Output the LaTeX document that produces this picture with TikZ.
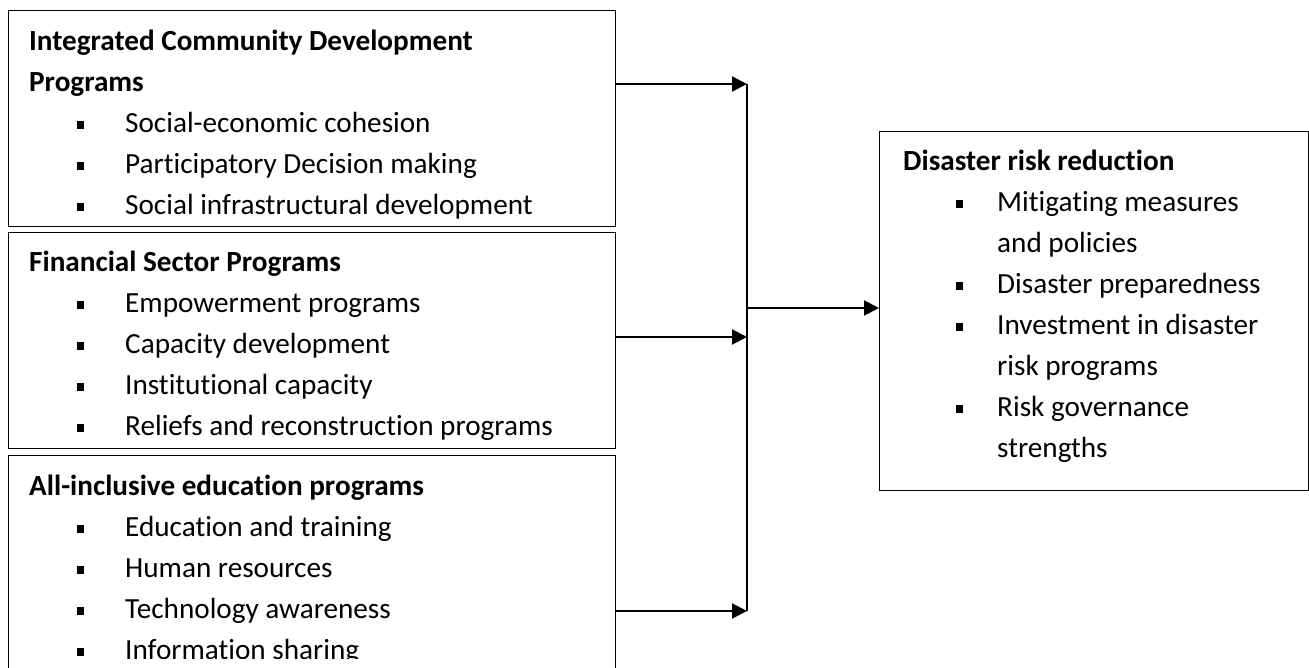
\documentclass[tikz,border=0pt]{standalone}
\usepackage{fontspec}
\setmainfont[Ligatures={NoCommon}]{Carlito}
\usetikzlibrary{arrows.meta}
% bullet item: small square, then the text on a hanging indent of the given width
\newcommand\bulletline[2][48pt]{\makebox[#1][l]{\rule[3pt]{7pt}{8pt}}#2}
\begin{document}
\begin{tikzpicture}[x=1pt,y=-1pt,
  box/.style={draw=black,line width=1.3pt,rectangle,inner sep=0pt,anchor=north west},
  txt/.style={anchor=base west,inner sep=0pt,font=\fontsize{29.2}{41}\selectfont},
  hd/.style={anchor=base west,inner sep=0pt,font=\fontsize{29.2}{41}\selectfont\bfseries},
  link/.style={line width=2pt,-{Triangle[length=15pt,width=15pt]}},
  rail/.style={line width=1.5pt}]
\useasboundingbox (0,0) rectangle (1309,667);
\clip (0,0) rectangle (1309,667);

% program boxes on the left
\node[box,minimum width=607pt,minimum height=216pt] (b1) at (8,10) {};
\node[box,minimum width=607pt,minimum height=216pt] (b2) at (8,232) {};
\node[box,minimum width=607pt,minimum height=240pt] (b3) at (8,455) {};
% outcome box on the right
\node[box,minimum width=429pt,minimum height=359pt] (out) at (879,131) {};

% box 1 text
\node[hd]  (h1)  at (29,50)  {Integrated Community Development};
\node[hd]  (h1b) at (29,91)  {Programs};
\node[txt] (i11) at (77,132) {\bulletline{Social-economic cohesion}};
\node[txt] (i12) at (77,173) {\bulletline{Participatory Decision making}};
\node[txt] (i13) at (77,214) {\bulletline{Social infrastructural development}};

% box 2 text, cut off at the inner margin
\begin{scope}
\clip (8,232) rectangle (615,440);
\node[hd]  (h2)  at (29,271)  {Financial Sector Programs};
\node[txt] (i21) at (77,312) {\bulletline{Empowerment programs}};
\node[txt] (i22) at (77,353) {\bulletline{Capacity development}};
\node[txt] (i23) at (77,394) {\bulletline{Institutional capacity}};
\node[txt] (i24) at (77,435) {\bulletline{Reliefs and reconstruction programs}};
\end{scope}

% box 3 text, cut off at the inner margin
\begin{scope}
\clip (8,455) rectangle (615,658);
\node[hd]  (h3)  at (29,495)  {All-inclusive education programs};
\node[txt] (i31) at (77,536) {\bulletline{Education and training}};
\node[txt] (i32) at (77,577) {\bulletline{Human resources}};
\node[txt] (i33) at (77,618) {\bulletline{Technology awareness}};
\node[txt] (i34) at (77,659) {\bulletline{Information sharing}};
\end{scope}

% outcome text
\node[hd]  (h4)  at (903,170) {Disaster risk reduction};
\node[txt] (i41) at (956,211) {\bulletline[41pt]{Mitigating measures}};
\node[txt] (i41b) at (997,252) {and policies};
\node[txt] (i42) at (956,293) {\bulletline[41pt]{Disaster preparedness}};
\node[txt] (i43) at (956,334) {\bulletline[41pt]{Investment in disaster}};
\node[txt] (i43b) at (997,375) {risk programs};
\node[txt] (i44) at (956,416) {\bulletline[41pt]{Risk governance}};
\node[txt] (i44b) at (997,457) {strengths};

% connectors
\coordinate (j1) at (747,84);
\coordinate (j2) at (747,337);
\coordinate (j3) at (747,611);
\coordinate (jo) at (747,308);
\draw[rail] (j1) -- (j3);
\draw[link] (j1 -| b1.east) -- (j1);
\draw[link] (j2 -| b2.east) -- (j2);
\draw[link] (j3 -| b3.east) -- (j3);
\draw[link] (jo) -- (jo -| out.west);
\end{tikzpicture}
\end{document}
